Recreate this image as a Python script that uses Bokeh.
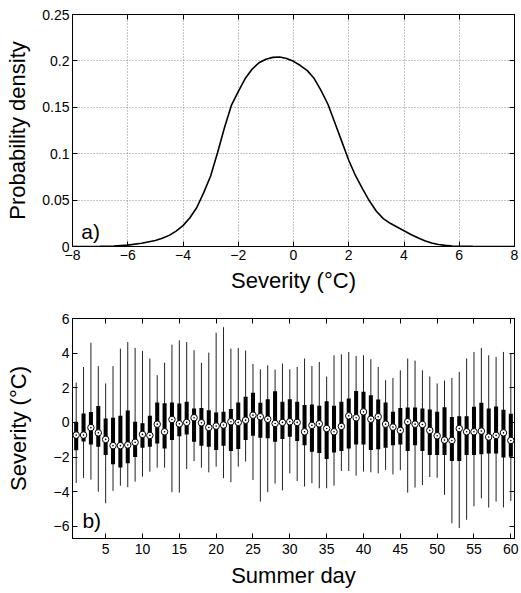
from bokeh.plotting import figure
from bokeh.models import LinearAxis, FixedTicker, Range1d, Label, ColumnDataSource, CustomLabelingPolicy
from bokeh.layouts import column
from bokeh.embed import file_html
from bokeh.resources import INLINE

# ---------------- data ----------------
density_x = [-8, -7, -6.5, -6, -5.5, -5, -4.75, -4.5, -4.25, -4, -3.75, -3.5, -3.25, -3,
             -2.75, -2.5, -2.25, -2, -1.75, -1.5, -1.25, -1, -0.75, -0.5, -0.25, 0,
             0.25, 0.5, 0.75, 1, 1.25, 1.5, 1.75, 2, 2.25, 2.5, 2.75, 3, 3.25, 3.5,
             3.75, 4, 4.25, 4.5, 4.75, 5, 5.25, 5.5, 5.75, 6, 6.5, 7, 8]
density_y = [0, 0.0002, 0.0006, 0.0015, 0.0035, 0.0065, 0.0088, 0.012, 0.0165, 0.0225,
             0.031, 0.042, 0.058, 0.076, 0.101, 0.128, 0.152, 0.167, 0.181, 0.191,
             0.198, 0.2018, 0.2038, 0.2042, 0.2025, 0.1995, 0.195, 0.1895, 0.181,
             0.168, 0.153, 0.133, 0.113, 0.093, 0.076, 0.062, 0.049, 0.038, 0.030,
             0.025, 0.021, 0.017, 0.013, 0.0095, 0.0063, 0.0038, 0.0022, 0.0012,
             0.0006, 0.0003, 0.0001, 0, 0]

days = list(range(1, 61))
whisker_high = [2.3, 3.2, 4.6, 3.25, 2.25, 3.25, 4.26, 4.64, 4.3, 4.13, 3.69, 2.73, 3.45, 4.49, 4.74,
                4.64, 4.17, 3.44, 4.03, 5.18, 5.5, 4.26, 4.3, 4.15, 3.38, 3.07, 3.3, 3.05, 3.4, 3.07,
                3.2, 3.69, 3.26, 3.49, 2.65, 3.88, 3.93, 4.07, 3.84, 3.88, 3.65, 3.2, 2.44, 2.57, 3.01,
                3.69, 3.57, 3.01, 2.65, 2.25, 2.42, 2.57, 2.92, 3.69, 4.07, 4.3, 3.88, 3.78, 4.07, 3.97]
q3 = [0.04, 0.52, 0.6, 0.95, 0.23, 0.27, 0.38, 0.69, 0.04, -0.04, 0.38, 1.15, 1.11, 1.15, 1.09,
      1.19, 0.81, 0.84, 0.71, 0.58, 0.61, 0.77, 1.15, 1.48, 1.71, 1.13, 1.34, 1.8, 1.19, 1.34,
      1.19, 1.0, 1.04, 0.96, 1.23, 0.96, 1.19, 1.38, 1.82, 1.77, 1.57, 1.32, 1.15, 0.61, 0.84,
      0.86, 0.86, 0.81, 0.75, 0.61, 0.88, 0.31, 0.35, 0.36, 0.9, 1.13, 0.81, 0.92, 0.73, 0.5]
median = [-0.73, -0.73, -0.3, -0.6, -0.98, -1.34, -1.34, -1.3, -1.15, -0.69, -0.75, -0.1, -0.54, 0.17, -0.08,
          0.0, 0.27, -0.02, -0.29, -0.21, -0.15, 0.04, 0.0, 0.13, 0.42, 0.33, 0.19, -0.06, 0.0, 0.04,
          0.0, -0.54, -0.17, -0.08, -0.35, -0.54, -0.23, 0.38, 0.27, 0.61, 0.19, 0.33, -0.1, -0.27, -0.46,
          0.04, -0.1, -0.12, -0.46, -0.77, -1.02, -1.04, -0.35, -0.54, -0.54, -0.5, -0.84, -0.75, -0.6, -1.04]
q1 = [-1.6, -1.1, -1.27, -1.4, -1.88, -2.42, -2.6, -2.36, -2.0, -1.46, -1.4, -1.21, -1.5, -1.02, -0.8,
      -0.69, -1.11, -1.34, -1.4, -1.59, -1.34, -1.65, -1.54, -1.02, -0.77, -0.88, -0.92, -1.11, -0.96, -0.83,
      -1.07, -1.31, -1.69, -1.77, -2.11, -1.73, -1.65, -1.5, -1.27, -1.27, -1.59, -1.55, -1.46, -1.31, -1.27,
      -1.65, -1.31, -1.65, -1.88, -1.88, -1.88, -2.23, -2.23, -1.88, -1.88, -1.84, -1.79, -1.79, -2.03, -1.98]
whisker_low = [-3.5, -3.2, -3.3, -4.0, -4.66, -3.95, -3.65, -3.74, -3.42, -3.13, -2.84, -2.61, -2.61, -4.03, -4.05,
               -2.69, -2.23, -2.61, -2.88, -2.55, -3.22, -3.45, -2.55, -2.26, -3.32, -4.57, -4.03, -3.53, -3.92, -2.94,
               -3.38, -3.7, -3.51, -3.8, -3.8, -3.65, -2.8, -2.8, -3.07, -2.84, -2.88, -2.94, -2.74, -3.0, -2.76,
               -4.05, -3.76, -3.61, -3.15, -3.19, -4.18, -5.82, -6.1, -5.62, -4.84, -4.38, -4.91, -4.57, -4.91, -4.53]

top_x_ticks = [-8, -6, -4, -2, 0, 2, 4, 6, 8]
top_x_labels = ["\u22128", "\u22126", "\u22124", "\u22122", "0", "2", "4", "6", "8"]
top_y_ticks = [0, 0.05, 0.1, 0.15, 0.2, 0.25]
top_y_labels = ["0", "0.05", "0.1", "0.15", "0.2", "0.25"]
bot_x_ticks = [5, 10, 15, 20, 25, 30, 35, 40, 45, 50, 55, 60]
bot_x_labels = ["5", "10", "15", "20", "25", "30", "35", "40", "45", "50", "55", "60"]
bot_y_ticks = [-6, -4, -2, 0, 2, 4, 6]
bot_y_labels = ["\u22126", "\u22124", "\u22122", "0", "2", "4", "6"]

FONT = "Liberation Sans"
TICK_FS = "14px"
LABEL_FS = "22px"

HIDE_ALL = """
const all = [...indices];
for (const i of all) indices.unset(i);
return indices;
"""


def style_axis(ax, ticks, labels, show=True, label_standoff=3):
    ax.ticker = FixedTicker(ticks=ticks)
    ax.major_tick_in = 5
    ax.major_tick_out = 0
    ax.minor_tick_line_color = None
    ax.axis_line_color = "black"
    ax.major_tick_line_color = "black"
    ax.major_label_text_font = FONT
    ax.major_label_text_color = "black"
    ax.axis_label_text_font = FONT
    ax.axis_label_text_font_size = LABEL_FS
    ax.axis_label_text_font_style = "normal"
    ax.axis_label_text_color = "black"
    if show:
        ax.major_label_text_font_size = TICK_FS
        ax.major_label_overrides = {t: l for t, l in zip(ticks, labels)}
        ax.major_label_standoff = label_standoff
    else:
        # mirrored (box) axis: ticks only, labels neither drawn nor given room
        ax.major_label_text_font_size = "0px"
        ax.major_label_policy = CustomLabelingPolicy(code=HIDE_ALL)
        ax.major_label_standoff = 0
        ax.axis_label_standoff = 0


def mirror_axes(p, xt, xl, yt, yl):
    top = LinearAxis()
    right = LinearAxis()
    p.add_layout(top, "above")
    p.add_layout(right, "right")
    style_axis(top, xt, xl, show=False)
    style_axis(right, yt, yl, show=False)


# ---------------- top panel ----------------
p1 = figure(width=521, height=300, output_backend="svg", toolbar_location=None,
            x_range=Range1d(-8, 8), y_range=Range1d(0, 0.25),
            min_border_left=72, min_border_right=7, min_border_top=14, min_border_bottom=54)
p1.line(density_x, density_y, line_color="black", line_width=1.6)
style_axis(p1.xaxis[0], top_x_ticks, top_x_labels)
style_axis(p1.yaxis[0], top_y_ticks, top_y_labels)
p1.xaxis.axis_label = "Severity (\u00b0C)"
p1.yaxis.axis_label = "Probability density"
p1.xaxis.axis_label_standoff = 5
p1.yaxis.axis_label_standoff = 9
mirror_axes(p1, top_x_ticks, top_x_labels, top_y_ticks, top_y_labels)
p1.grid.grid_line_color = "#8c8c8c"
p1.grid.grid_line_dash = "1 2"
p1.grid.grid_line_width = 1
p1.outline_line_color = "black"
p1.background_fill_color = "white"
p1.add_layout(Label(x=-7.68, y=0.004, text="a)", text_font=FONT, text_font_size="21px",
                    text_color="black", text_baseline="bottom"))

# ---------------- bottom panel ----------------
src = ColumnDataSource(dict(day=days, hi=whisker_high, q3=q3, med=median, q1=q1, lo=whisker_low))
p2 = figure(width=521, height=293, output_backend="svg", toolbar_location=None,
            x_range=Range1d(0.5, 60.5), y_range=Range1d(-6.7, 6),
            min_border_left=72, min_border_right=7, min_border_top=18, min_border_bottom=55)
p2.segment(x0="day", y0="lo", x1="day", y1="hi", source=src, line_color="#222222", line_width=1)
p2.vbar(x="day", bottom="q1", top="q3", width=0.55, source=src, fill_color="black", line_color=None)
p2.scatter(x="day", y="med", source=src, marker="circle_dot", size=6.5,
           fill_color="white", line_color="black", line_width=1)
style_axis(p2.xaxis[0], bot_x_ticks, bot_x_labels, label_standoff=5)
style_axis(p2.yaxis[0], bot_y_ticks, bot_y_labels)
p2.xaxis.axis_label = "Summer day"
p2.yaxis.axis_label = "Severity (\u00b0C)"
p2.xaxis.axis_label_standoff = 6
p2.yaxis.axis_label_standoff = 20
mirror_axes(p2, bot_x_ticks, bot_x_labels, bot_y_ticks, bot_y_labels)
p2.grid.visible = False
p2.outline_line_color = "black"
p2.add_layout(Label(x=1.85, y=-6.3, text="b)", text_font=FONT, text_font_size="21px",
                    text_color="black", text_baseline="bottom"))

layout = column(p1, p2, spacing=0)
open("out.html", "w").write(file_html(layout, INLINE))
